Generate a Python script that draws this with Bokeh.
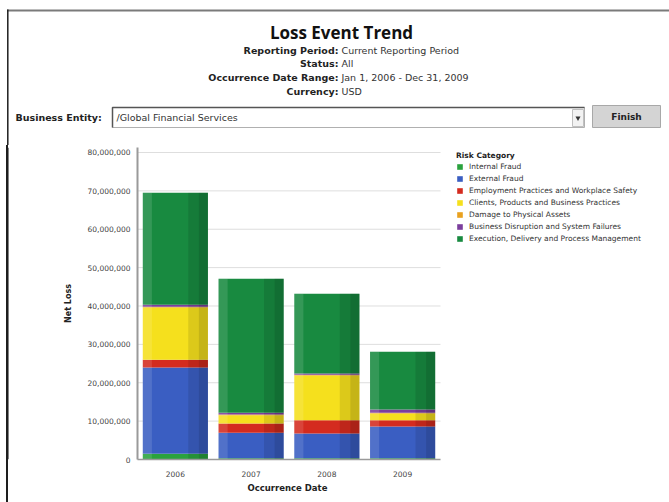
from bokeh.plotting import figure
from bokeh.models import (Range1d, Legend, LegendItem, NumeralTickFormatter,
                          FixedTicker, ColumnDataSource, Title)
from bokeh.layouts import column, row
from bokeh.core.properties import value
from bokeh.transform import dodge
from bokeh.embed import file_html
from bokeh.resources import INLINE

FONT = "DejaVu Sans"
TITLE_FONT = "Open Sans"
EDGE_CSS = {"background": "linear-gradient(to right, rgba(255,255,255,0) 6.5px, #1e1e1e 6.5px, "
                          "#1e1e1e 8px, rgba(255,255,255,0) 8px)"}

# ---------------- texts ----------------
title_text = "Loss Event Trend"
info_labels = ["Reporting Period:", "Status:", "Occurrence Date Range:", "Currency:"]
info_values = ["Current Reporting Period", "All", "Jan 1, 2006 - Dec 31, 2009", "USD"]
entity_label = "Business Entity:"
entity_value = "/Global Financial Services"
button_text = "Finish"
legend_title = "Risk Category"
x_title = "Occurrence Date"
y_title = "Net Loss"

# ---------------- data ----------------
years = ["2006", "2007", "2008", "2009"]
series_names = [
    "Internal Fraud",
    "External Fraud",
    "Employment Practices and Workplace Safety",
    "Clients, Products and Business Practices",
    "Damage to Physical Assets",
    "Business Disruption and System Failures",
    "Execution, Delivery and Process Management",
]
internal_fraud = [1_500_000, 300_000, 300_000, 300_000]
external_fraud = [22_500_000, 6_700_000, 6_500_000, 8_300_000]
employment = [2_000_000, 2_400_000, 3_400_000, 1_600_000]
clients = [13_600_000, 2_100_000, 11_700_000, 1_800_000]
damage = [200_000, 200_000, 200_000, 200_000]
disruption = [500_000, 500_000, 300_000, 800_000]
execution = [29_200_000, 34_900_000, 20_800_000, 15_100_000]
series = [internal_fraud, external_fraud, employment, clients, damage, disruption, execution]
colors = ["#2aa23e", "#3a5ec2", "#d42b1f", "#f5e01d", "#e9a11f", "#7b3e9d", "#188a40"]
y_ticks = [0, 10_000_000, 20_000_000, 30_000_000, 40_000_000,
           50_000_000, 60_000_000, 70_000_000, 80_000_000]

xpos = list(range(len(years)))
keys = [f"s{i}" for i in range(len(series))]
data = dict(xpos=xpos, year=years)
for k, s in zip(keys, series):
    data[k] = s
data["total"] = [sum(v) for v in zip(*series)]
source = ColumnDataSource(data)
x_lo, x_hi = xpos[0] - 0.5, xpos[-1] + 0.5

# ---------------- header ----------------
hdr = figure(width=669, height=145, x_range=Range1d(0, 669), y_range=Range1d(145, 0),
             output_backend="svg", toolbar_location=None, min_border=0,
             x_axis_location=None, y_axis_location=None)
hdr.frame_align = False
hdr.grid.visible = False
hdr.outline_line_color = None
hdr.background_fill_color = "white"
hdr.border_fill_color = "white"

hdr.segment(x0=[6.5], y0=[10], x1=[669], y1=[10], line_color="#7a7a7a", line_width=2)
hdr.segment(x0=[7.3], y0=[9], x1=[7.3], y1=[145], line_color="#1e1e1e", line_width=1.5)
hdr.text(x=[341], y=[32], text=[title_text], text_font=value(TITLE_FONT), text_font_style="bold",
         text_font_size="17px", text_align="center", text_baseline="middle", text_color="#111111")
info_y = [50, 63, 77, 91]
hdr.text(x=[338] * 4, y=info_y, text=info_labels, text_font=value(FONT), text_font_style="bold",
         text_font_size="9.5px", text_align="right", text_baseline="middle", text_color="#222222")
hdr.text(x=[341] * 4, y=info_y, text=info_values, text_font=value(FONT),
         text_font_size="9.5px", text_align="left", text_baseline="middle", text_color="#333333")
hdr.text(x=[15], y=[117], text=[entity_label], text_font=value(FONT), text_font_style="bold",
         text_font_size="9.5px", text_align="left", text_baseline="middle", text_color="#222222")
# dropdown
hdr.quad(left=[112], right=[584], top=[107], bottom=[127], fill_color="white",
         line_color="#b0b0b0", line_width=1)
hdr.line(x=[112, 112, 584], y=[127, 107, 107], line_color="#555555", line_width=1.5)
hdr.text(x=[116], y=[117], text=[entity_value], text_font=value(FONT),
         text_font_size="9.5px", text_align="left", text_baseline="middle", text_color="#333333")
hdr.quad(left=[572], right=[583], top=[109], bottom=[126], fill_color="#f2f2f2",
         line_color="#c0c0c0", line_width=1)
hdr.scatter(x=[577.5], y=[117.5], marker="inverted_triangle", size=5,
            fill_color="#333333", line_color=None)
# button
hdr.quad(left=[592], right=[660], top=[105], bottom=[127], fill_color="#d4d4d4",
         line_color="#a8a8a8", line_width=1)
hdr.text(x=[626], y=[116], text=[button_text], text_font=value(FONT), text_font_style="bold",
         text_font_size="9px", text_align="center", text_baseline="middle", text_color="#222222")

# ---------------- left frame strip beside the chart ----------------
strip = figure(width=9, height=357, x_range=Range1d(0, 9), y_range=Range1d(357, 0),
               output_backend="svg", toolbar_location=None, min_border=0,
               x_axis_location=None, y_axis_location=None, styles=EDGE_CSS)
strip.grid.visible = False
strip.outline_line_color = None
strip.background_fill_alpha = 0
strip.border_fill_alpha = 0
strip.segment(x0=[7.3], y0=[0], x1=[7.3], y1=[357], line_color="#1e1e1e", line_width=1.5)

# ---------------- chart ----------------
chart = figure(width=660, height=357,
               x_range=Range1d(x_lo, x_hi + 229 / 75.75),
               y_range=Range1d(0, 81_300_000), output_backend="svg", toolbar_location=None,
               min_border_left=128, min_border_right=0, min_border_top=2, min_border_bottom=43)
chart.frame_align = False
chart.grid.visible = False
chart.outline_line_color = None
chart.background_fill_color = "white"
chart.border_fill_color = "white"

# horizontal gridlines only across the bar area
chart.segment(x0=[x_lo] * len(y_ticks), x1=[x_hi] * len(y_ticks), y0=y_ticks, y1=y_ticks,
              line_color="#dedede", line_width=1)

rs = chart.vbar_stack(keys, x="xpos", width=0.86, color=colors, line_color=None, source=source)

# soft cylinder-like shading from the totals
chart.vbar(x=dodge("xpos", 0.30), top="total", width=0.26,
           fill_color="black", fill_alpha=0.10, line_color=None, source=source)
chart.vbar(x=dodge("xpos", 0.37), top="total", width=0.12,
           fill_color="black", fill_alpha=0.10, line_color=None, source=source)
chart.vbar(x=dodge("xpos", -0.37), top="total", width=0.12,
           fill_color="white", fill_alpha=0.12, line_color=None, source=source)

chart.yaxis.ticker = FixedTicker(ticks=y_ticks)
chart.yaxis.formatter = NumeralTickFormatter(format="0,0")
chart.xaxis.ticker = FixedTicker(ticks=xpos)
chart.xaxis.major_label_overrides = {x: y for x, y in zip(xpos, years)}
chart.xaxis.bounds = (x_lo, x_hi)
for ax in (chart.xaxis[0], chart.yaxis[0]):
    ax.major_tick_line_color = None
    ax.minor_tick_line_color = None
    ax.axis_line_color = "#9a9a9a"
    ax.major_label_text_font = FONT
    ax.major_label_text_font_size = "7.5px"
    ax.major_label_text_color = "#444444"
    ax.axis_label_text_font = FONT
    ax.axis_label_text_font_style = "bold"
    ax.axis_label_text_font_size = "8px"
    ax.axis_label_text_color = "#222222"
chart.yaxis.axis_line_width = 2
chart.xaxis.axis_line_width = 1.5
chart.yaxis.axis_label = y_title
chart.yaxis.major_label_standoff = 1
chart.yaxis.axis_label_standoff = 12
chart.xaxis.major_label_standoff = 5

# x-axis title, centred under the bars
chart.add_layout(Title(text=x_title, align="left", offset=110, standoff=2,
                       text_font=FONT, text_font_style="bold", text_font_size="8.5px",
                       text_color="#222222"), "below")

legend = Legend(
    items=[LegendItem(label=n, renderers=[r]) for n, r in zip(series_names, rs)],
    location=(319, 216), title=legend_title,
    title_text_font=FONT, title_text_font_style="bold", title_text_font_size="7.5px",
    title_text_color="#222222", title_standoff=2,
    label_text_font=FONT, label_text_font_size="7.5px", label_text_color="#333333",
    glyph_width=7, glyph_height=7, label_height=8, label_standoff=6, spacing=3,
    padding=0, margin=0, border_line_color=None, background_fill_alpha=0,
)
chart.add_layout(legend)

layout = column(hdr, row(strip, chart, styles=EDGE_CSS))

with open("out.html", "w") as f:
    f.write(file_html(layout, INLINE))
